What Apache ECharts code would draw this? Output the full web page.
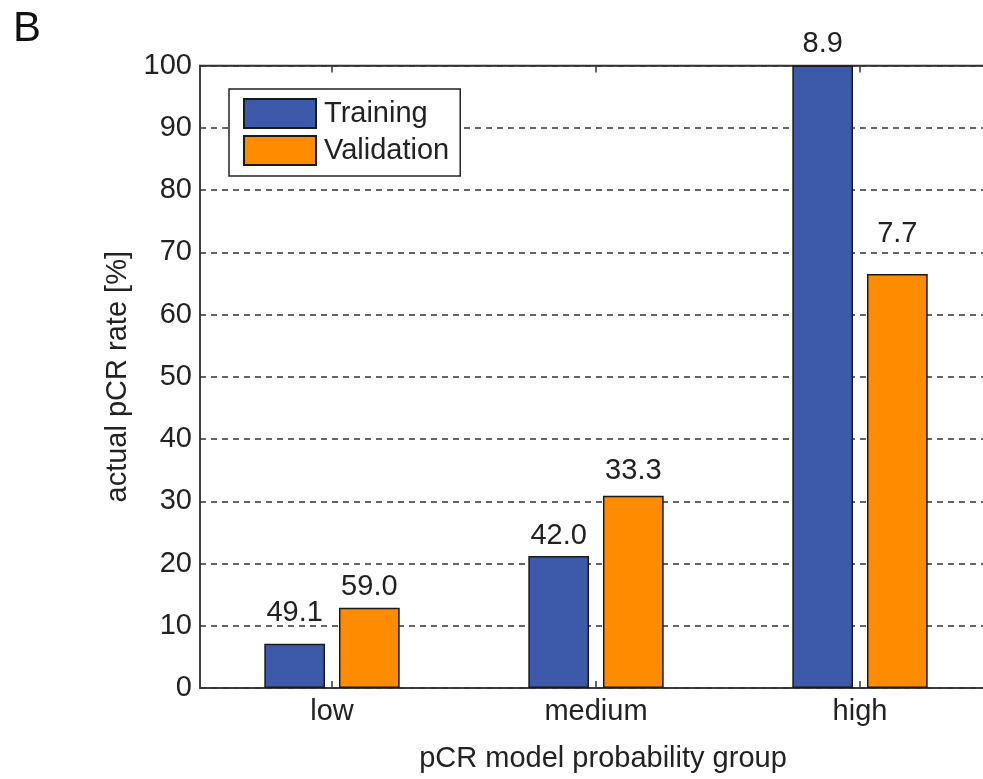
<!DOCTYPE html>
<html>
<head>
<meta charset="utf-8">
<script src="https://cdn.jsdelivr.net/npm/echarts@6/dist/echarts.min.js"></script>
<style>
html,body{margin:0;padding:0;background:#fff;}
#chart{width:983px;height:779px;}
</style>
</head>
<body>
<div id="chart"></div>
<script>
const categories = ['low', 'medium', 'high'];
const trainingValues = [7.1, 21.2, 100];
const validationValues = [12.9, 30.9, 66.5];
const trainingLabels = ['49.1', '42.0', '8.9'];
const validationLabels = ['59.0', '33.3', '7.7'];
const yTicks = [0, 10, 20, 30, 40, 50, 60, 70, 80, 90, 100];

// label offsets above each bar (style only)
const trainingLabelGap = [16, 6, 7];
const validationLabelGap = [6, 10, 26];

const FONT = '"Liberation Sans", Arial, sans-serif';
const TXT = '#222';
const FS = 29;

function mkData(vals, labels, gaps) {
  return vals.map((v, i) => ({
    value: v,
    label: { distance: gaps[i], formatter: labels[i] }
  }));
}

const chart = echarts.init(document.getElementById('chart'), null, { renderer: 'canvas' });
chart.setOption({
  animation: false,
  backgroundColor: '#fff',
  textStyle: { fontFamily: FONT },
  graphic: [{
    type: 'text', left: 13, top: 8,
    style: { text: 'B', font: '42px ' + FONT, fill: '#111' }
  }],
  grid: {
    left: 200, top: 65.5, width: 792, bottom: 91,
    outerBoundsMode: 'none',
    containLabel: false,
    show: true, borderColor: '#333', borderWidth: 1.5, backgroundColor: 'transparent'
  },
  legend: {
    orient: 'vertical',
    left: 229, top: 89,
    padding: [9, 11, 10, 14],
    itemWidth: 72, itemHeight: 29, itemGap: 6,
    backgroundColor: '#fff',
    borderColor: '#222', borderWidth: 1.5, borderRadius: 0,
    textStyle: { fontSize: FS, color: TXT, fontFamily: FONT, padding: [0, 0, 0, 3] },
    data: ['Training', 'Validation'],
    icon: 'rect'
  },
  xAxis: [{
    type: 'category',
    data: categories,
    position: 'bottom',
    axisLine: { show: true, lineStyle: { color: '#333', width: 1.5 } },
    axisTick: { show: true, inside: true, alignWithLabel: true, length: 7, lineStyle: { color: '#333', width: 1.5 } },
    axisLabel: { fontSize: FS, color: TXT, margin: 9, fontFamily: FONT },
    name: 'pCR model probability group',
    nameLocation: 'middle',
    nameGap: 56,
    nameTextStyle: { fontSize: FS, color: TXT, fontFamily: FONT, padding: [0, 0, 0, 14] }
  }, {
    type: 'category',
    data: categories,
    position: 'top',
    axisLine: { show: true, lineStyle: { color: '#333', width: 1.5 } },
    axisTick: { show: true, inside: true, alignWithLabel: true, length: 7, lineStyle: { color: '#333', width: 1.5 } },
    axisLabel: { show: false }
  }],
  yAxis: {
    type: 'value',
    min: 0, max: 100, interval: 10,
    axisLine: { show: true, lineStyle: { color: '#333', width: 1.5 } },
    axisTick: { show: false },
    axisLabel: {
      fontSize: FS, color: TXT, margin: 8, fontFamily: FONT,
      formatter: v => yTicks.includes(v) ? String(v) : ''
    },
    splitLine: { show: true, lineStyle: { color: '#333', width: 1.5, type: [6, 5] } },
    name: 'actual pCR rate [%]',
    nameLocation: 'middle',
    nameGap: 68,
    nameTextStyle: { fontSize: FS, color: TXT, fontFamily: FONT }
  },
  series: [{
    name: 'Training',
    type: 'bar',
    barWidth: '23%',
    barGap: '23%',
    data: mkData(trainingValues, trainingLabels, trainingLabelGap),
    itemStyle: { color: '#3d59a9', borderColor: '#1a1a1a', borderWidth: 1.5 },
    label: { show: true, position: 'top', fontSize: FS, color: TXT, fontFamily: FONT }
  }, {
    name: 'Validation',
    type: 'bar',
    barWidth: '23%',
    barGap: '23%',
    data: mkData(validationValues, validationLabels, validationLabelGap),
    itemStyle: { color: '#ff8c00', borderColor: '#1a1a1a', borderWidth: 1.5 },
    label: { show: true, position: 'top', fontSize: FS, color: TXT, fontFamily: FONT }
  }]
});
</script>
</body>
</html>
